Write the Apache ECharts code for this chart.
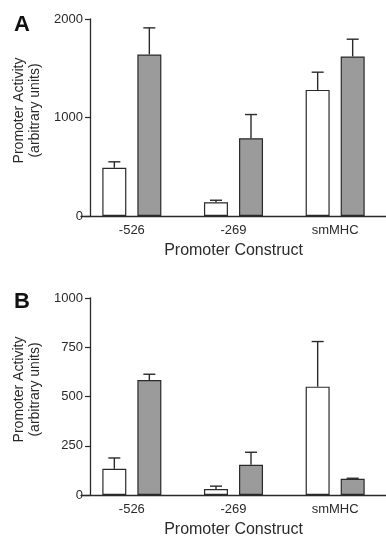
<!DOCTYPE html>
<html>
<head>
<meta charset="utf-8">
<script src="https://cdn.jsdelivr.net/npm/echarts@6/dist/echarts.min.js"></script>
<style>
  html, body { margin: 0; padding: 0; background: #fff; }
  #chart { width: 386px; height: 539px; }
</style>
</head>
<body>
<div id="chart"></div>
<script>
// constructs on the x axis
const categories = ['-526', '-269', 'smMHC'];

// panel A
const aWhite = [490, 140, 1280];
const aWhiteErr = [60, 20, 180];
const aGray = [1640, 790, 1620];
const aGrayErr = [270, 240, 175];

// panel B
const bWhite = [133, 30, 550];
const bWhiteErr = [55, 15, 229];
const bGray = [584, 153, 82];
const bGrayErr = [29, 64, 3];

const font = "'Liberation Sans', Arial, sans-serif";
const ink = '#2a2a2a';
const barW = 24;
const pairShift = 17.5; // half of bar + gap

const errData = (vals, errs) => vals.map((v, i) => [i, v, v + errs[i]]);

const errSeries = (idx, vals, errs, shift) => ({
    type: 'custom',
    xAxisIndex: idx,
    yAxisIndex: idx,
    z: 5,
    data: errData(vals, errs),
    renderItem: function (params, api) {
        const base = api.coord([api.value(0), api.value(1)]);
        const top = api.coord([api.value(0), api.value(2)]);
        const x = base[0] + shift;
        const style = { stroke: ink, lineWidth: 1.4 };
        return {
            type: 'group',
            children: [
                { type: 'line', shape: { x1: x, y1: base[1], x2: x, y2: top[1] }, style: style },
                { type: 'line', shape: { x1: x - 6, y1: top[1], x2: x + 6, y2: top[1] }, style: style }
            ]
        };
    }
});

const barSeries = (idx, vals, color) => ({
    type: 'bar',
    xAxisIndex: idx,
    yAxisIndex: idx,
    data: vals,
    barWidth: barW,
    barGap: '46%',
    itemStyle: { color: color, borderColor: ink, borderWidth: 1.2 }
});

const xAxisOf = (idx) => ({
    type: 'category',
    gridIndex: idx,
    data: categories,
    axisLine: { lineStyle: { color: ink, width: 1.3 } },
    axisTick: { show: false },
    axisLabel: { color: ink, fontFamily: font, fontSize: 13, margin: 8 },
    name: 'Promoter Construct',
    nameLocation: 'middle',
    nameGap: 27,
    nameTextStyle: { color: ink, fontFamily: font, fontSize: 16 }
});

const yAxisOf = (idx, max, interval) => ({
    type: 'value',
    gridIndex: idx,
    min: 0,
    max: max,
    interval: interval,
    offset: -9,
    splitLine: { show: false },
    axisLine: { show: true, lineStyle: { color: ink, width: 1.3 } },
    axisTick: { show: true, length: 5, lineStyle: { color: ink, width: 1.2 } },
    axisLabel: { color: ink, fontFamily: font, fontSize: 13, margin: 7, formatter: (v) => String(v) },
    name: 'Promoter Activity\n(arbitrary units)',
    nameLocation: 'middle',
    nameRotate: 90,
    nameGap: 43,
    nameTextStyle: { color: ink, fontFamily: font, fontSize: 14, lineHeight: 16, padding: [0, 0, 0, 14] }
});

const option = {
    animation: false,
    backgroundColor: '#fff',
    title: [
        { text: 'A', left: 9, top: 9, textStyle: { fontFamily: font, fontSize: 22, fontWeight: 'bold', color: '#111' } },
        { text: 'B', left: 9, top: 286, textStyle: { fontFamily: font, fontSize: 22, fontWeight: 'bold', color: '#111' } }
    ],
    grid: [
        { left: 81, top: 19, width: 318, height: 197 },
        { left: 81, top: 298, width: 318, height: 198 }
    ],
    xAxis: [xAxisOf(0), xAxisOf(1)],
    yAxis: [yAxisOf(0, 2000, 1000), yAxisOf(1, 1000, 250)],
    series: [
        barSeries(0, aWhite, '#ffffff'),
        barSeries(0, aGray, '#9b9b9b'),
        errSeries(0, aWhite, aWhiteErr, -pairShift),
        errSeries(0, aGray, aGrayErr, pairShift),
        barSeries(1, bWhite, '#ffffff'),
        barSeries(1, bGray, '#9b9b9b'),
        errSeries(1, bWhite, bWhiteErr, -pairShift),
        errSeries(1, bGray, bGrayErr, pairShift)
    ]
};

const chart = echarts.init(document.getElementById('chart'), null, { renderer: 'canvas' });
chart.setOption(option);
</script>
</body>
</html>
